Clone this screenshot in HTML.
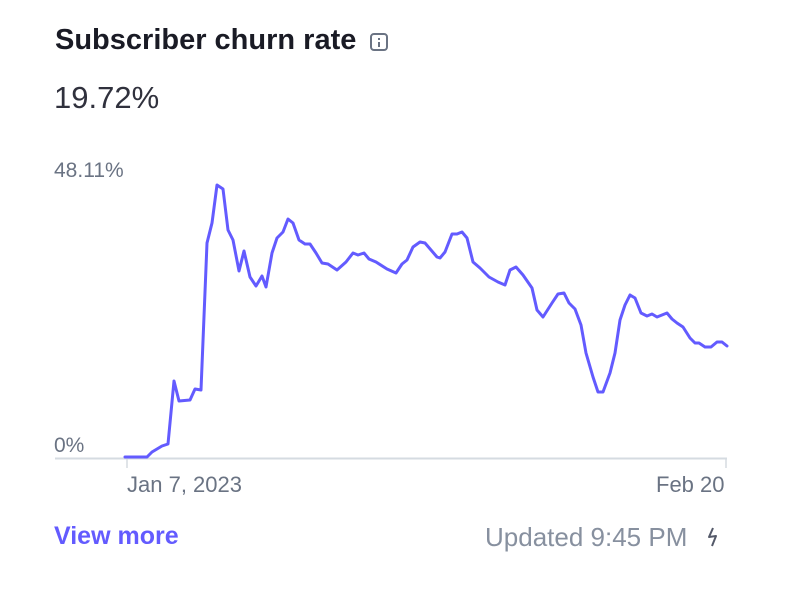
<!DOCTYPE html>
<html><head><meta charset="utf-8"><style>
body{margin:0;width:800px;height:604px;background:#fff;font-family:"Liberation Sans",sans-serif;position:relative;overflow:hidden}
.t{position:absolute;white-space:nowrap}
</style></head><body>
<div class="t" style="left:55px;top:24px;font-size:29px;font-weight:bold;color:#1a1b25">Subscriber churn rate</div>
<div class="t" style="left:370px;top:33px;width:18px;height:18px;border:2px solid #6a7383;border-radius:4px;box-sizing:border-box"></div>
<div class="t" style="left:378px;top:38px;width:2px;height:2px;background:#6a7383"></div>
<div class="t" style="left:378px;top:42px;width:2px;height:5px;background:#6a7383"></div>
<div class="t" style="left:54px;top:80px;font-size:31px;color:#30313d">19.72%</div>
<div class="t" style="left:54px;top:159px;font-size:21px;color:#6a7383">48.11%</div>
<div class="t" style="left:54px;top:434px;font-size:21px;color:#6a7383">0%</div>
<div class="t" style="left:127px;top:472px;font-size:22px;color:#6a7383">Jan 7, 2023</div>
<div class="t" style="left:656px;top:472px;font-size:22px;color:#6a7383">Feb 20</div>
<div class="t" style="left:54px;top:522px;font-size:25px;font-weight:bold;color:#635bff">View more</div>
<div class="t" style="left:485px;top:522px;font-size:26px;color:#87909f">Updated 9:45 PM</div>
<svg class="t" style="left:0;top:0" width="800" height="604">
<line x1="55" y1="458.5" x2="727" y2="458.5" stroke="#d5dbe1" stroke-width="2"/>
<line x1="127" y1="459" x2="127" y2="468" stroke="#d5dbe1" stroke-width="1.5"/>
<line x1="726" y1="459" x2="726" y2="468" stroke="#d5dbe1" stroke-width="1.5"/>
<path d="M713 528 L709 537 L716 536 L712 546" fill="none" stroke="#545969" stroke-width="2" stroke-linejoin="round"/>
<polyline fill="none" stroke="#635bff" stroke-width="3" stroke-linejoin="round" stroke-linecap="round" points="125,457 147,457 152,452 162,446 168,444 174,381 179,401 190,400 195,389 201,390 207,243 212,223 217,185 223,189 228,230 233,240 239,271 244,251 250,277 256,286 262,276 266,287 272,253 277,238 283,232 288,219 293,223 299,240 305,244 310,244 316,253 322,263 328,264 337,270 346,262 353,253 358,255 364,253 369,259 376,262 387,269 396,273 402,264 407,260 413,247 420,242 425,243 437,257 440,258 445,252 452,234 457,234 462,232 467,238 473,262 480,268 489,277 498,282 505,285 510,270 516,267 523,275 532,288 537,310 543,317 552,303 558,294 564,293 569,303 575,309 581,325 586,353 593,377 598,392 603,392 610,373 615,353 620,320 625,305 630,295 635,298 641,313 647,316 652,314 657,317 667,313 672,319 677,323 683,327 690,338 695,343 699,343 705,347 711,347 717,342 722,342 727,346"/>
</svg>
</body></html>
